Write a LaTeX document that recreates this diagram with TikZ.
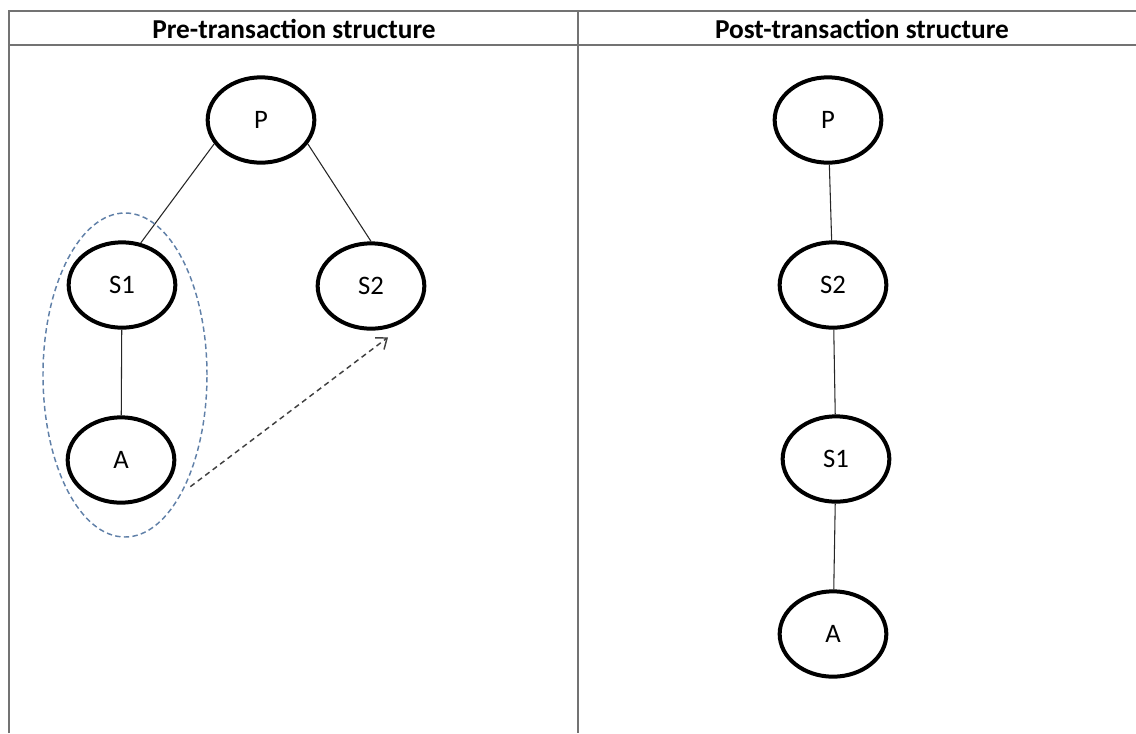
\documentclass[tikz,border=0pt]{standalone}
\usepackage{fontspec}
\setmainfont{Carlito}
\usetikzlibrary{positioning}
\usetikzlibrary{shapes.geometric}
\usetikzlibrary{arrows.meta}

\definecolor{groupblue}{RGB}{96,128,168}

\begin{document}
\begin{tikzpicture}[x=0.75pt,y=-0.75pt,
  entity/.style={draw,ellipse,line width=3pt,minimum width=80pt,minimum height=64pt,inner sep=0pt,font=\fontsize{20}{24}\selectfont},
  link/.style={draw=black!85,line width=0.8pt},
  rule/.style={draw=black!55,line width=1.5pt},
  title/.style={font=\fontsize{20.5}{24}\selectfont\bfseries},
  group/.style={draw=groupblue,line width=1.1pt,dash pattern=on 4pt off 2.5pt},
  movearrow/.style={draw=black!75,line width=1.1pt,dash pattern=on 4pt off 3pt,-{Straight Barb[length=7pt,width=11pt]}}]
 \useasboundingbox (0,0) rectangle (1136,733);
 % table frame
 \draw[rule] (9,733) -- (9,11) -- (1136,11);
 \draw[rule] (9,45) -- (1136,45);
 \draw[rule] (578,11) -- (578,733);
 \node[title] (pretitle) at (294,29) {Pre-transaction structure};
 \node[title] (posttitle) at (862,29) {Post-transaction structure};

 % before
 \node[entity] (preP) at (261,120) {P};
 \node[entity] (preS1) at (122,285) {S1};
 \node[entity] (preS2) at (371,286) {S2};
 \node[entity] (preA) at (121,460) {A};
 \draw[link] (preP.207) -- (preS1.66);
 \draw[link] (preP.333) -- (preS2.north);
 \draw[link] (preS1) -- (preA);
 \draw[group] (125,375) ellipse (61.5pt and 121.5pt);
 \draw[movearrow] ([xshift=10.5pt,yshift=-20pt]preA.east) -- ([xshift=12.75pt,yshift=-5pt]preS2.south);

 % after
 \node[entity] (postP) at (828,120) {P};
 \node[entity] (postS2) at (833,285) {S2};
 \node[entity] (postS1) at (836,459) {S1};
 \node[entity] (postA) at (833,634) {A};
 \draw[link] (postP) -- (postS2);
 \draw[link] (postS2) -- (postS1);
 \draw[link] (postS1) -- (postA);
\end{tikzpicture}
\end{document}
